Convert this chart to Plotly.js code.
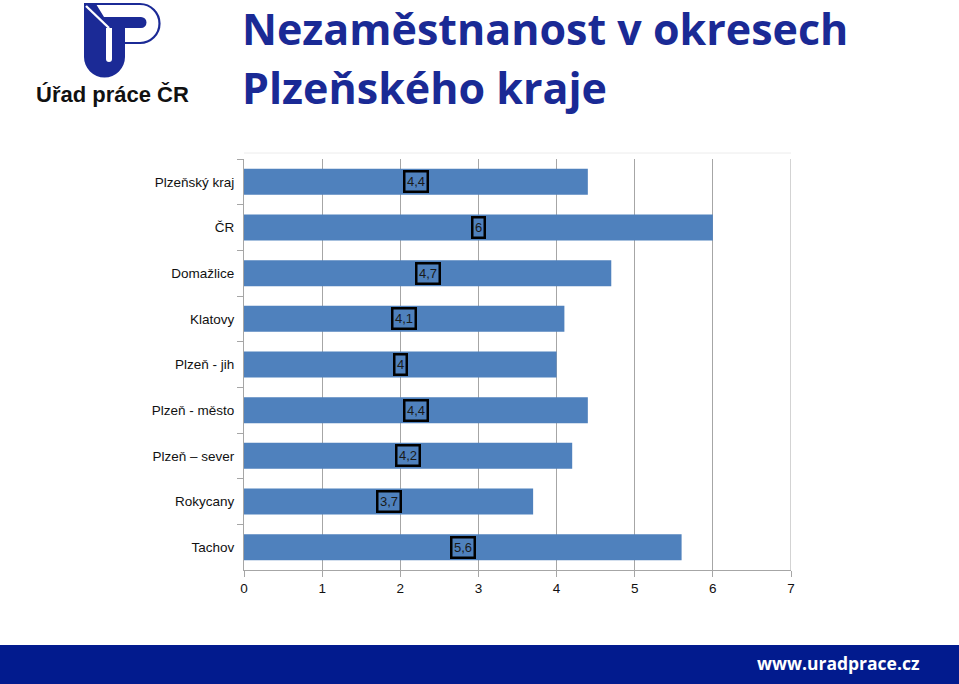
<!DOCTYPE html>
<html>
<head>
<meta charset="utf-8">
<script src="https://cdn.plot.ly/plotly-3.0.1.min.js"></script>
<style>
html,body{margin:0;padding:0;background:#fff;}
#chart{width:959px;height:684px;}
</style>
</head>
<body>
<div id="chart"></div>
<script>
// ---- data ----
const categories = ["Plzeňský kraj", "ČR", "Domažlice", "Klatovy", "Plzeň - jih", "Plzeň - město", "Plzeň – sever", "Rokycany", "Tachov"];
const values = [4.4, 6, 4.7, 4.1, 4, 4.4, 4.2, 3.7, 5.6];
const xTicks = [0, 1, 2, 3, 4, 5, 6, 7];
const titleLines = ["Nezaměstnanost v okresech", "Plzeňského kraje"];
const logoText = "Úřad práce ČR";
const footerText = "www.uradprace.cz";

// ---- layout geometry (pixels) ----
const W = 959, H = 684;
const L = 244, R = 791, T = 159, B = 570;
const pw = R - L, ph = B - T;
const px = x => (x - L) / pw;
const py = y => 1 - (y - T) / ph;

const blue = "#1b2a96";
const svg = `<svg xmlns="http://www.w3.org/2000/svg" width="120" height="82" viewBox="60 0 120 82">
<path d="M84,4 L140,4 A19.5,19.5 0 0 1 140,43 L124,43" fill="none" stroke="${blue}" stroke-width="2.2"/>
<path d="M84,4 L84,57 A20.5,20.5 0 0 0 125,57 L125,28 L141,28 A5.5,5.5 0 0 0 141,17 L104,17 L96,4 Z" fill="${blue}"/>
<path d="M86,6 L109,28" stroke="#fff" stroke-width="2.4"/>
<path d="M106,28 L106,59 A3,3 0 0 0 112,59 L112,28 Z" fill="#fff"/>
</svg>`;
const logoURI = "data:image/svg+xml;utf8," + encodeURIComponent(svg);

const fmt = v => String(v).replace(".", ",");

const trace = {
  type: "bar",
  orientation: "h",
  x: values,
  y: categories,
  marker: {color: "#4f81bd", line: {width: 0}},
  hoverinfo: "skip"
};

const valueAnnotations = values.map((v, i) => ({
  x: v / 2, y: categories[i], xref: "x", yref: "y",
  text: fmt(v), showarrow: false,
  font: {family: "Liberation Sans, Arial", size: 13, color: "#1a1a1a"},
  bordercolor: "#000", borderwidth: 2.5, borderpad: 1.5
}));

const titleFont = {family: "Open Sans", size: 43, color: "#1a2a95"};
const decoAnnotations = [
  {x: px(240), y: py(28), xref: "paper", yref: "paper", xanchor: "left", yanchor: "middle",
   text: "<b>" + titleLines[0] + "</b>", showarrow: false, font: titleFont},
  {x: px(240), y: py(87), xref: "paper", yref: "paper", xanchor: "left", yanchor: "middle",
   text: "<b>" + titleLines[1] + "</b>", showarrow: false, font: titleFont},
  {x: px(112), y: py(94), xref: "paper", yref: "paper", xanchor: "center", yanchor: "middle",
   text: "<b>" + logoText + "</b>", showarrow: false,
   font: {family: "Liberation Sans, Arial", size: 22, color: "#111"}},
  {x: px(838), y: py(663), xref: "paper", yref: "paper", xanchor: "center", yanchor: "middle",
   text: "<b>" + footerText + "</b>", showarrow: false,
   font: {family: "Open Sans", size: 17.5, color: "#fff"}}
];

const layout = {
  width: W, height: H,
  margin: {l: L, r: W - R, t: T, b: H - B, pad: 0},
  paper_bgcolor: "#fff", plot_bgcolor: "#fff",
  showlegend: false,
  bargap: 0.43,
  font: {family: "Liberation Sans, Arial", size: 13.5, color: "#111"},
  xaxis: {
    range: [0, 7], tickvals: xTicks, ticktext: xTicks.map(String),
    showgrid: true, gridcolor: "#a6a6a6", gridwidth: 1,
    zeroline: false, showline: true, linecolor: "#a6a6a6", linewidth: 1,
    ticks: "outside", ticklen: 6, tickcolor: "#a6a6a6",
    tickfont: {size: 13.5, color: "#111"}, fixedrange: true
  },
  yaxis: {
    autorange: "reversed", type: "category",
    showgrid: false, zeroline: false, showline: true, linecolor: "#a6a6a6", linewidth: 1,
    ticks: "outside", tickson: "boundaries", ticklen: 6, tickcolor: "#a6a6a6",
    ticklabelstandoff: 6,
    tickfont: {size: 13.5, color: "#111"}, fixedrange: true
  },
  shapes: [
    {type: "rect", xref: "paper", yref: "paper", x0: px(0), x1: px(W), y0: py(645), y1: py(H + 2),
     fillcolor: "#021b8e", line: {width: 0}, layer: "below"},
    {type: "line", xref: "paper", yref: "paper", x0: px(244), x1: px(791), y0: py(153), y1: py(153),
     line: {color: "#ececec", width: 1}},
    {type: "line", xref: "x", yref: "paper", x0: xTicks[xTicks.length - 1], x1: xTicks[xTicks.length - 1], y0: 0, y1: 1,
     line: {color: "#a6a6a6", width: 1}}
  ],
  images: [
    {source: logoURI, xref: "paper", yref: "paper", x: px(60), y: py(0), sizex: 120 / pw, sizey: 82 / ph,
     xanchor: "left", yanchor: "top", sizing: "stretch", layer: "above"}
  ],
  annotations: valueAnnotations.concat(decoAnnotations)
};

Plotly.newPlot("chart", [trace], layout, {displayModeBar: false, staticPlot: true});
</script>
</body>
</html>
